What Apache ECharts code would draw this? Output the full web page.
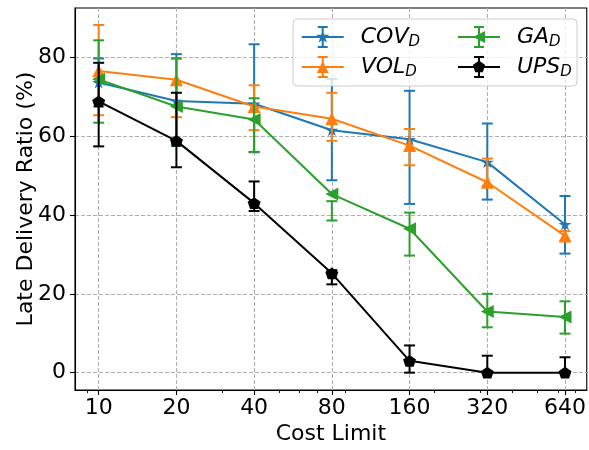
<!DOCTYPE html>
<html>
<head>
<meta charset="utf-8">
<script src="https://cdn.jsdelivr.net/npm/echarts@6/dist/echarts.min.js"></script>
<style>
html, body { margin: 0; padding: 0; background: #fff; }
#main { width: 589px; height: 450px; }
</style>
</head>
<body>
<div id="main"></div>
<script>
var costs = [10, 20, 40, 80, 160, 320, 640];
var minorTicks = [9, 30, 50, 60, 70, 90, 200, 300, 400, 500, 600, 700];
var yTicks = [0, 20, 40, 60, 80];

var covMean = [73.6, 68.9, 68.2, 61.5, 59.2, 53.4, 37.6];
var covLow  = [67.5, 58.0, 56.0, 48.8, 42.8, 43.9, 30.2];
var covHigh = [79.7, 80.8, 83.3, 74.5, 71.5, 63.2, 44.8];

var volMean = [76.5, 74.3, 67.5, 64.4, 57.6, 48.3, 34.7];
var volLow  = [65.3, 64.8, 61.5, 58.8, 52.6, 47.4, 33.3];
var volHigh = [88.2, 79.7, 72.9, 71.0, 61.8, 54.3, 35.9];

var gaMean = [74.4, 67.5, 64.2, 45.3, 36.5, 15.5, 14.1];
var gaLow  = [63.4, 57.5, 55.9, 38.6, 29.7, 11.5, 9.9];
var gaHigh = [84.3, 79.7, 69.6, 43.5, 40.6, 20.0, 18.1];

var upsMean = [68.8, 58.8, 43.0, 25.2, 3.0, 0, 0];
var upsLow  = [57.4, 52.1, 41.0, 22.4, 0, 0, 0];
var upsHigh = [78.6, 71.0, 48.5, 26.0, 6.9, 4.3, 3.9];

var FONT = 'DejaVu Sans';

// marker shapes
var starPath = 'path://M7,0L8.57,4.84L13.66,4.84L9.54,7.83L11.11,12.66L7,9.67L2.89,12.66L4.46,7.83L0.34,4.84L5.43,4.84Z';
var leftTriPath = 'path://M0,5L10,0L10,10Z';
var pentaPath = 'path://M10,0L19.51,6.91L15.88,18.09L4.12,18.09L0.49,6.91Z';

// legend icons: line + error bar + marker
var bars = 'M0,10L42,10L42,12L0,12Z M20,2L22,2L22,20L20,20Z M16,0L26,0L26,2L16,2Z M16,20L26,20L26,22L16,22Z ';
var iconCov = 'path://' + bars + 'M21,4L22.6,8.8L27.7,8.8L23.6,11.8L25.1,16.6L21,13.7L16.9,16.6L18.4,11.8L14.3,8.8L19.4,8.8Z';
var iconVol = 'path://' + bars + 'M21,5L27,17L15,17Z';
var iconGa = 'path://' + bars + 'M15,11L27,5L27,17Z';
var iconUps = 'path://' + bars + 'M21,4.5L27.18,8.99L24.82,16.26L17.18,16.26L14.82,8.99Z';

function errSeries(color, low, high, z) {
    return {
        type: 'custom',
        silent: true,
        z: z,
        data: costs.map(function (c, i) { return [c, low[i], high[i]]; }),
        encode: { x: 0, y: [1, 2] },
        renderItem: function (params, api) {
            var x = api.value(0);
            var p1 = api.coord([x, api.value(1)]);
            var p2 = api.coord([x, api.value(2)]);
            var cw = 5.5;
            var st = { stroke: color, lineWidth: 2 };
            return {
                type: 'group',
                children: [
                    { type: 'line', shape: { x1: p1[0], y1: p1[1], x2: p2[0], y2: p2[1] }, style: st },
                    { type: 'line', shape: { x1: p1[0] - cw, y1: p1[1], x2: p1[0] + cw, y2: p1[1] }, style: st },
                    { type: 'line', shape: { x1: p2[0] - cw, y1: p2[1], x2: p2[0] + cw, y2: p2[1] }, style: st }
                ]
            };
        }
    };
}

function lineSeries(name, color, symbol, size, mean, z) {
    return {
        type: 'line',
        name: name,
        z: z,
        data: costs.map(function (c, i) { return [c, mean[i]]; }),
        symbol: symbol,
        symbolSize: size,
        symbolKeepAspect: true,
        showSymbol: true,
        itemStyle: { color: color },
        lineStyle: { color: color, width: 2 },
        emphasis: { disabled: true }
    };
}

var richText = {
    n: { fontFamily: FONT, fontStyle: 'italic', fontSize: 22, lineHeight: 26, color: '#000', padding: [0, 0, 0, 12] },
    s: { fontFamily: FONT, fontStyle: 'italic', fontSize: 15, lineHeight: 15, verticalAlign: 'bottom', color: '#000' }
};
function legendFmt(name) {
    return '{n|' + name.split('_')[0] + '}{s|D}';
}

var chart = echarts.init(document.getElementById('main'));

var option = {
    animation: false,
    backgroundColor: '#fff',
    grid: {
        left: 75, right: 1.5, top: 8, bottom: 59,
        show: true, borderColor: '#000', borderWidth: 1.1
    },
    xAxis: [
        {
            type: 'log', logBase: 2, min: 8.096, max: 777,
            name: 'Cost Limit', nameLocation: 'middle', nameGap: 33, nameMoveOverlap: false,
            nameTextStyle: { fontFamily: FONT, fontSize: 22, color: '#000' },
            axisLine: { show: true, onZero: false, lineStyle: { color: '#000', width: 1.1 } },
            axisTick: { show: true, length: 5, lineStyle: { color: '#000', width: 1.1 }, customValues: costs },
            axisLabel: { fontFamily: FONT, fontSize: 22, color: '#000', margin: 7, customValues: costs },
            splitLine: { show: true, lineStyle: { color: '#b0b0b0', width: 1.1, type: [4, 2] } },
            minorTick: { show: false }
        },
        {
            type: 'log', logBase: 2, min: 8.096, max: 777, position: 'bottom',
            axisLine: { show: false, onZero: false },
            axisTick: { show: true, length: 3, lineStyle: { color: '#000', width: 0.9 }, customValues: minorTicks },
            axisLabel: { show: false },
            splitLine: { show: false }
        }
    ],
    yAxis: {
        type: 'value', min: -4.4, max: 92.5,
        name: 'Late Delivery Ratio (%)', nameLocation: 'middle', nameGap: 38, nameMoveOverlap: false,
        nameTextStyle: { fontFamily: FONT, fontSize: 22, color: '#000' },
        axisLine: { show: true, onZero: false, lineStyle: { color: '#000', width: 1.1 } },
        axisTick: { show: true, length: 5, lineStyle: { color: '#000', width: 1.1 }, customValues: yTicks },
        axisLabel: { fontFamily: FONT, fontSize: 22, color: '#000', margin: 9, customValues: yTicks },
        splitLine: { show: true, lineStyle: { color: '#b0b0b0', width: 1.1, type: [4, 2] } }
    },
    graphic: [{
        type: 'rect',
        z: 10,
        shape: { x: 293, y: 19, width: 284, height: 67, r: 4 },
        style: { fill: 'rgba(255,255,255,0.8)', stroke: '#cccccc', lineWidth: 1 }
    }],
    legend: [
        {
            z: 11, orient: 'vertical', left: 301.7, top: 26, padding: 0, itemGap: 6,
            itemWidth: 42, itemHeight: 22,
            itemStyle: { borderWidth: 0 },
            data: [{ name: 'COV_D', icon: iconCov }, { name: 'VOL_D', icon: iconVol }],
            formatter: legendFmt,
            textStyle: { rich: richText }
        },
        {
            z: 11, orient: 'vertical', left: 458, top: 26, padding: 0, itemGap: 6,
            itemWidth: 42, itemHeight: 22,
            itemStyle: { borderWidth: 0 },
            data: [{ name: 'GA_D', icon: iconGa }, { name: 'UPS_D', icon: iconUps }],
            formatter: legendFmt,
            textStyle: { rich: richText }
        }
    ],
    series: [
        errSeries('#1f77b4', covLow, covHigh, 2),
        lineSeries('COV_D', '#1f77b4', starPath, [13, 12.4], covMean, 3),
        errSeries('#ff7f0e', volLow, volHigh, 4),
        lineSeries('VOL_D', '#ff7f0e', 'triangle', 13, volMean, 5),
        errSeries('#2ca02c', gaLow, gaHigh, 6),
        lineSeries('GA_D', '#2ca02c', leftTriPath, 13, gaMean, 7),
        errSeries('#000000', upsLow, upsHigh, 8),
        lineSeries('UPS_D', '#000000', pentaPath, [13, 12.4], upsMean, 9)
    ]
};

chart.setOption(option);
</script>
</body>
</html>
